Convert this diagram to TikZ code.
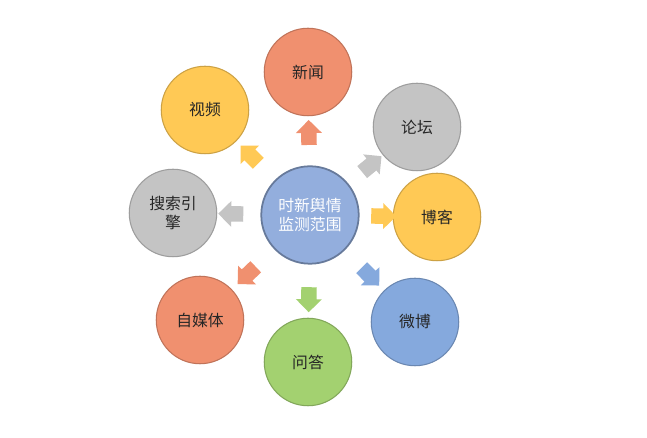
\documentclass[tikz,border=0pt]{standalone}
\usepackage{fontspec}
\setmainfont{Noto Sans CJK SC}
\usetikzlibrary{positioning,shapes.arrows,calc}
\definecolor{cOrange}{HTML}{F0906F}
\definecolor{cGray}{HTML}{C4C4C4}
\definecolor{cYellow}{HTML}{FFC955}
\definecolor{cBlue}{HTML}{85A9DD}
\definecolor{cGreen}{HTML}{A3D170}
\definecolor{cCenter}{HTML}{93AEDD}
\tikzset{
  topic/.style={circle, minimum size=1.75cm, inner sep=0pt, align=center,
    font=\small, text=black!85, fill=#1, draw=#1!80!black, line width=0.6pt},
  hub/.style={circle, minimum size=1.95cm, inner sep=0pt, align=center,
    font=\small, text=white, fill=cCenter, draw=cCenter!70!black, line width=1pt},
  pointer/.style={single arrow, fill=#1, draw=none, minimum height=0.5cm,
    minimum width=0.52cm, single arrow head extend=0.1cm, inner xsep=0pt,
    inner ysep=0.14cm}
}
\begin{document}
\begin{tikzpicture}[x=0.02cm,y=-0.02cm]
\useasboundingbox (0,0) rectangle (647,438);
\fill[white] (0,0) rectangle (647,438);
\node[hub] (hub) at (310,215) {时新舆情\\监测范围};
\node[topic=cOrange] (news) at (308,72) {新闻};
\node[topic=cGray] (forum) at (417,127) {论坛};
\node[topic=cYellow] (blog) at (437,217) {博客};
\node[topic=cBlue] (weibo) at (415,322) {微博};
\node[topic=cGreen] (qa) at (308,362) {问答};
\node[topic=cOrange] (media) at (200,320) {自媒体};
\node[topic=cGray] (search) at (173,213) {搜索引\\擎};
\node[topic=cYellow] (video) at (205,110) {视频};
% arrows between hub and topics
\foreach \t/\c in {news/cOrange,forum/cGray,blog/cYellow,weibo/cBlue,qa/cGreen,media/cOrange,search/cGray,video/cYellow}
  \path let \p1=($(\t)-(hub)$), \n1={atan2(\y1,\x1)} in
    node[pointer=\c, rotate=\n1] at ($(hub)!0.55!(\t)$) {};
\end{tikzpicture}
\end{document}
